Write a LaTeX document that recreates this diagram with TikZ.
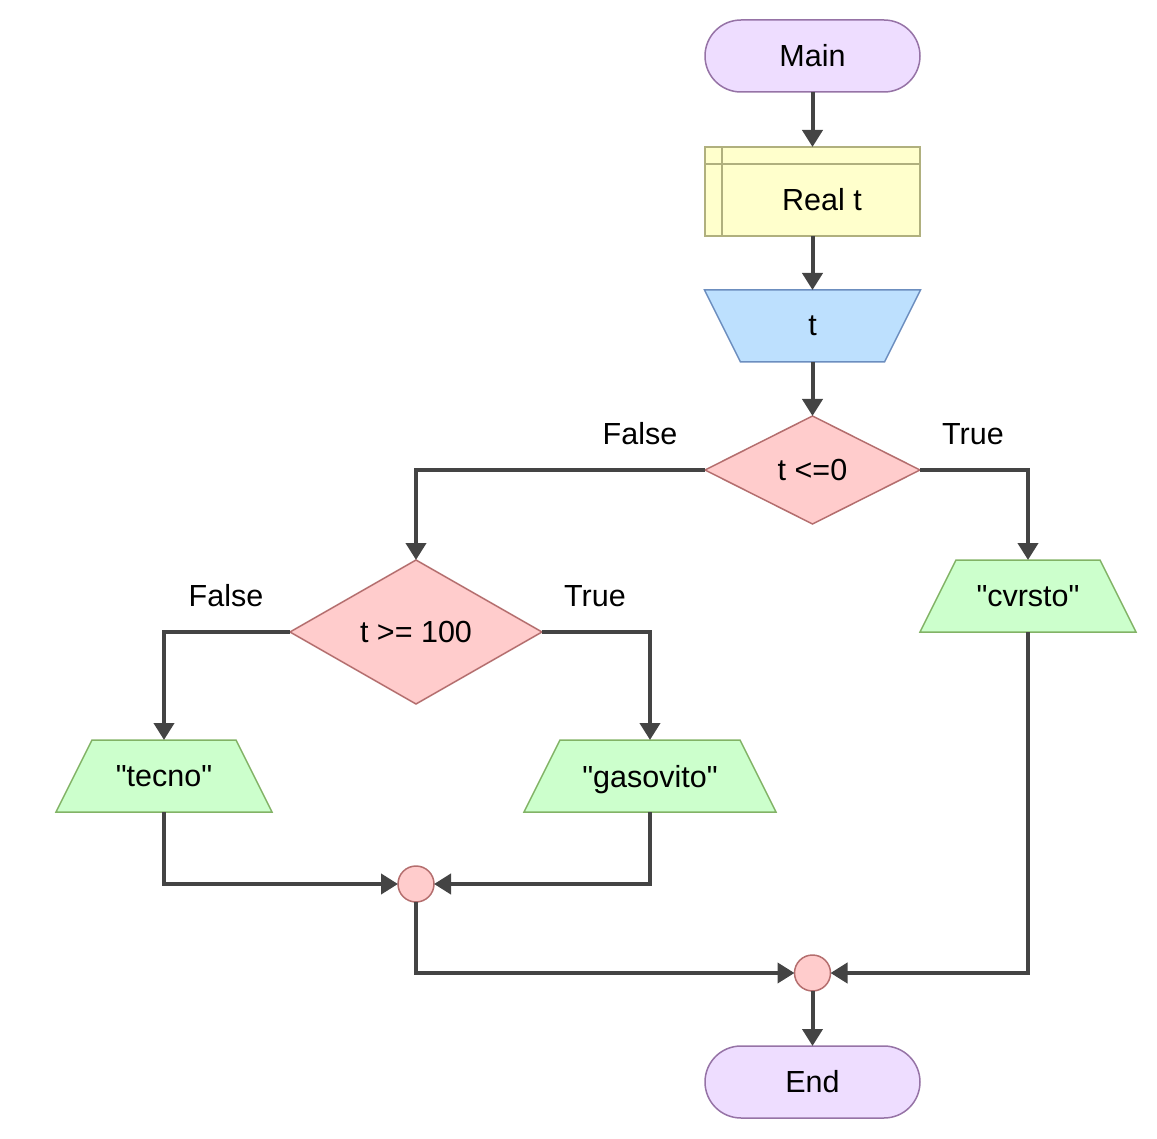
\documentclass[tikz,border=0pt]{standalone}
\usepackage{fontspec}
\setmainfont{Liberation Sans}
\usetikzlibrary{shapes.geometric,shapes.misc,arrows.meta}
\pgfdeclarelayer{background}
\pgfsetlayers{background,main}
\definecolor{termfill}{HTML}{EEDDFF}
\definecolor{termline}{HTML}{9673A6}
\definecolor{declfill}{HTML}{FFFFCC}
\definecolor{declline}{HTML}{B0B07E}
\definecolor{infill}{HTML}{BDE0FE}
\definecolor{inline}{HTML}{6C8EBF}
\definecolor{decfill}{HTML}{FFCCCC}
\definecolor{decline}{HTML}{B46E6E}
\definecolor{outfill}{HTML}{CCFFCC}
\definecolor{outline}{HTML}{82B366}
\definecolor{arrowc}{HTML}{444444}
\tikzset{
  every node/.style={font=\fontsize{30.5}{36}\selectfont, inner sep=0pt, outer sep=0pt},
  term/.style={rounded rectangle, draw=termline, fill=termfill, line width=1.5pt, minimum width=215pt, minimum height=72pt},
  decl/.style={rectangle, draw=declline, fill=declfill, line width=1.5pt, minimum width=215pt, minimum height=89pt},
  iobox/.style={rectangle, minimum height=72pt, text depth=0pt},
  inshape/.style={draw=inline, fill=infill, line width=1.5pt},
  outshape/.style={draw=outline, fill=outfill, line width=1.5pt},
  decision/.style={diamond, draw=decline, fill=decfill, line width=1.5pt},
  joint/.style={circle, draw=decline, fill=decfill, line width=1.5pt, minimum size=36pt},
  flow/.style={draw=arrowc, line width=4pt, -{Triangle[length=17pt,width=20pt]}},
  lbl/.style={font=\fontsize{30.5}{36}\selectfont}
}
\newcommand{\qq}[1]{\textquotedbl#1\textquotedbl}
\begin{document}
\begin{tikzpicture}[x=1pt,y=-1pt]
\useasboundingbox (0,0) rectangle (1157,1139);
\node[term] (main) at (812.5,56) {Main};
\node[decl] (realt) at (812.5,191.5) {};
\draw[declline, line width=1.5pt] ([xshift=17pt]realt.north west) -- ([xshift=17pt]realt.south west);
\draw[declline, line width=1.5pt] ([yshift=-17pt]realt.north west) -- ([yshift=-17pt]realt.north east);
\node (realtxt) at (822,200) {Real t};
\node[iobox, minimum width=216pt] (tin) at (812.5,326) {t};
\node[decision, minimum width=215pt, minimum height=108pt] (d1) at (812.5,470) {t <=0};
\node[decision, minimum width=252pt, minimum height=144pt] (d2) at (416,632) {t >= 100};
\node[iobox, minimum width=216pt] (cvrsto) at (1028,596) {\qq{cvrsto}};
\node[iobox, minimum width=216pt] (tecno) at (164,776) {\qq{tecno}};
\node[iobox, minimum width=252pt] (gas) at (650,776) {\qq{gasovito}};
\node[joint] (j1) at (416,884) {};
\node[joint] (j2) at (812.5,973) {};
\node[term] (end) at (812.5,1082) {End};
\begin{pgfonlayer}{background}
\draw[inshape] (tin.north west) -- (tin.north east) -- ([xshift=-36pt]tin.south east) -- ([xshift=36pt]tin.south west) -- cycle;
\draw[outshape] ([xshift=36pt]cvrsto.north west) -- ([xshift=-36pt]cvrsto.north east) -- (cvrsto.south east) -- (cvrsto.south west) -- cycle;
\draw[outshape] ([xshift=36pt]tecno.north west) -- ([xshift=-36pt]tecno.north east) -- (tecno.south east) -- (tecno.south west) -- cycle;
\draw[outshape] ([xshift=36pt]gas.north west) -- ([xshift=-36pt]gas.north east) -- (gas.south east) -- (gas.south west) -- cycle;
\end{pgfonlayer}
\node[lbl] (lf1) at (640,434) {False};
\node[lbl] (lt1) at (973,434) {True};
\node[lbl] (lf2) at (226,596) {False};
\node[lbl] (lt2) at (595,596) {True};
\draw[flow] (main) -- (realt);
\draw[flow] (realt) -- (tin);
\draw[flow] (tin.south) -- (d1.north);
\draw[flow] (d1.west) -| (d2.north);
\draw[flow] (d1.east) -| (cvrsto.north);
\draw[flow] (d2.west) -| (tecno.north);
\draw[flow] (d2.east) -| (gas.north);
\draw[flow] (tecno.south) |- (j1.west);
\draw[flow] (gas.south) |- (j1.east);
\draw[flow] (j1.south) |- (j2.west);
\draw[flow] (cvrsto.south) |- (j2.east);
\draw[flow] (j2.south) -- (end.north);
\end{tikzpicture}
\end{document}
